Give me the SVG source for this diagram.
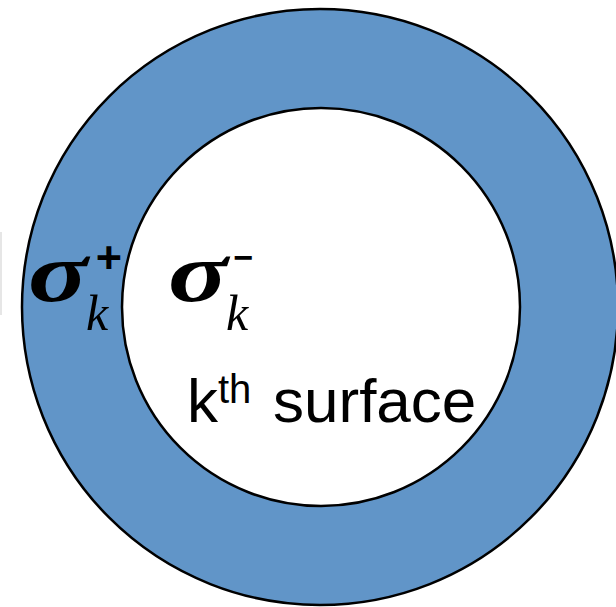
<svg xmlns="http://www.w3.org/2000/svg" width="616" height="607" viewBox="0 0 616 607">
<style>
.ring{fill:#6195C8;stroke:#000;stroke-width:2.5}
.hole{fill:#fff;stroke:#000;stroke-width:2.5}
.sig{font-family:"Liberation Serif","Times New Roman",serif;font-weight:bold;font-style:italic;font-size:84px;fill:#000}
.sub{font-family:"Liberation Serif","Times New Roman",serif;font-style:italic;font-size:50px;fill:#000}
.sup{font-family:"Liberation Sans",Arial,sans-serif;font-weight:bold;fill:#000}
.lbl{font-family:"Liberation Sans",Arial,sans-serif;fill:#000}
</style>
<rect width="616" height="607" fill="#fff"/>
<line x1="1" y1="232" x2="1" y2="315" stroke="#e6e6e6" stroke-width="2"/>
<g id="outer-surface">
<circle class="ring" cx="320" cy="307" r="298"/>
</g>
<g id="kth-surface">
<circle class="hole" cx="321" cy="307" r="199"/>
</g>
<g id="sigma-plus">
<text class="sig" transform="translate(28,301) scale(1.32,1)">σ</text>
<text class="sub" x="86" y="330">k</text>
<text class="sup" x="109" y="273" font-size="45" text-anchor="middle">+</text>
</g>
<g id="sigma-minus">
<text class="sig" transform="translate(168,301) scale(1.32,1)">σ</text>
<text class="sub" x="226" y="330">k</text>
<text class="sup" x="243.5" y="269" font-size="34" text-anchor="middle">−</text>
</g>
<g id="label">
<text class="lbl" x="187" y="422" font-size="62">k</text>
<text class="lbl" x="218" y="403" font-size="40">th</text>
<text class="lbl" x="273" y="422" font-size="62">surface</text>
</g>
</svg>
